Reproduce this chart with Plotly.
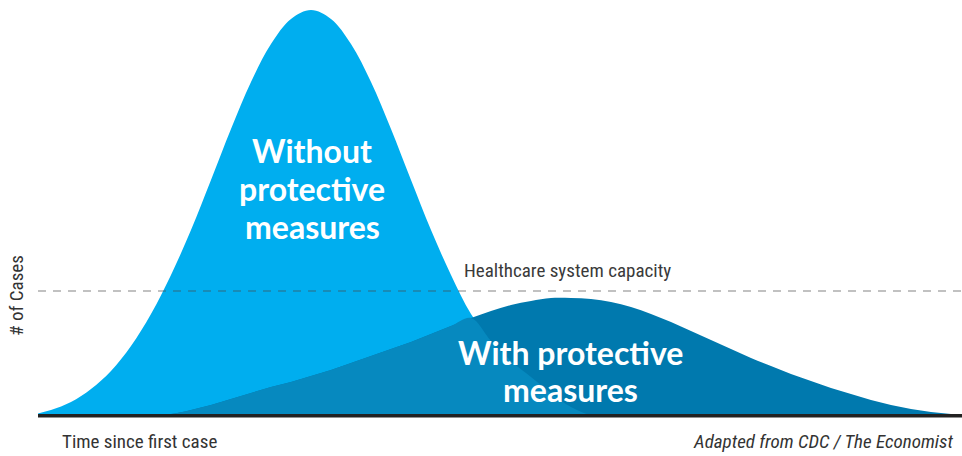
import plotly.graph_objects as go

# shared time grid (pixel-like units across the chart)
days = [31, 51, 71, 91, 111, 131, 151, 171, 191, 211, 231, 251, 271, 291, 311,
        331, 351, 371, 391, 411, 431, 451, 471, 491, 511, 531, 551, 571, 591,
        611, 631, 651, 671, 691, 711, 731, 751, 771, 791, 811, 831, 851,
        871, 891, 911, 931, 951, 971]

without_measures = [0, 5, 13, 26, 44, 69, 101, 140, 185, 235, 286, 333, 371, 396, 405,
                    396, 371, 333, 286, 235, 185, 140, 101, 74, 54, 38, 22, 8, 0,
                    0, 0, 0, 0, 0, 0, 0, 0, 0, 0, 0, 0, 0,
                    0, 0, 0, 0, 0, 0]

with_measures = [0, 0, 0, 0, 0, 0, 0, 1, 5, 10, 16, 22, 28, 33, 39,
                 45, 52, 59, 66, 73, 81, 89, 97, 104, 110, 114, 117, 117, 116,
                 113, 108, 101, 93, 84, 75, 66, 57, 49, 41, 34, 27, 21,
                 15, 10, 6, 3, 1, 0]

capacity = 124

both = [min(a, b) for a, b in zip(without_measures, with_measures)]

LIGHT = "#00aeef"
DARK = "#0079ae"
OVERLAP = "#0689bf"

fig = go.Figure()
fig.add_trace(go.Scatter(x=days, y=without_measures, mode="lines", line=dict(width=0, shape="spline"),
                         fill="tozeroy", fillcolor=LIGHT, hoverinfo="skip"))
fig.add_trace(go.Scatter(x=days, y=with_measures, mode="lines", line=dict(width=0, shape="spline"),
                         fill="tozeroy", fillcolor=DARK, hoverinfo="skip"))
fig.add_trace(go.Scatter(x=days, y=both, mode="lines", line=dict(width=0, shape="spline"),
                         fill="tozeroy", fillcolor=OVERLAP, hoverinfo="skip"))

# capacity line and baseline
fig.add_shape(type="line", xref="paper", x0=0, x1=1, y0=capacity, y1=capacity,
              line=dict(color="rgba(70,70,70,0.45)", width=1.5, dash="8px,7px"))
fig.add_shape(type="line", xref="paper", yref="paper", x0=0, x1=1, y0=-0.002, y1=-0.002,
              line=dict(color="#222222", width=3.5))

cond = "Roboto Condensed, DejaVu Sans Condensed, Liberation Sans Narrow, Arial Narrow, sans-serif"
small = dict(family=cond, size=19, color="#333333")
big = dict(family="Lato, sans-serif", size=32, color="white", weight="bold")

for txt, yy in [("Without", 265), ("protective", 227), ("measures", 189)]:
    fig.add_annotation(x=312, y=yy, text=txt, showarrow=False, font=big)
for txt, yy in [("With protective", 63), ("measures", 26)]:
    fig.add_annotation(x=570, y=yy, text=txt, showarrow=False, font=big)

fig.add_annotation(x=567, y=145, text="Healthcare system capacity", showarrow=False,
                   font=dict(small, color="#3a3a3a"))

# labels outside the plotting area (paper coordinates)
fig.add_annotation(xref="paper", yref="paper", x=-0.024, y=0.289, text="# of Cases", textangle=-90,
                   xanchor="center", yanchor="middle", showarrow=False, font=small)
fig.add_annotation(xref="paper", yref="paper", x=0.110, y=-0.063, text="Time since first case",
                   xanchor="center", yanchor="middle", showarrow=False, font=small)
fig.add_annotation(xref="paper", yref="paper", x=0.9924, y=-0.063, xanchor="right", yanchor="middle",
                   text="<i>Adapted from CDC / The Economist</i>", showarrow=False, font=small)

fig.update_layout(
    width=962, height=456,
    margin=dict(l=38, r=0, t=0, b=41),
    plot_bgcolor="white", paper_bgcolor="white",
    showlegend=False,
    xaxis=dict(range=[38, 962], visible=False, fixedrange=True),
    yaxis=dict(range=[0, 415], visible=False, fixedrange=True),
)

fig.write_html("out.html", config={"displayModeBar": False},
               post_script="document.body.style.margin='0';")
